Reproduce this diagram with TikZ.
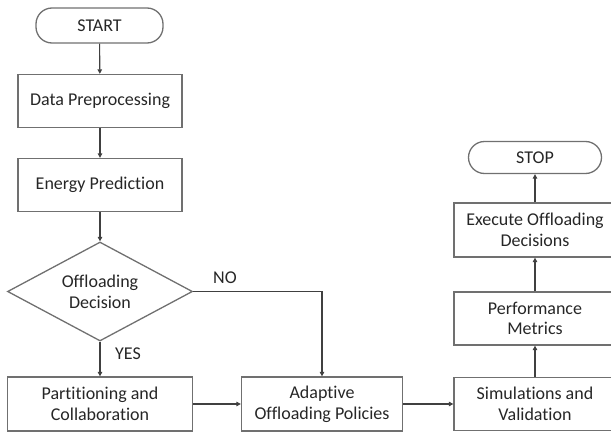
\documentclass[tikz,border=0pt]{standalone}
\usepackage{fontspec}
\setmainfont{Carlito}[Ligatures={NoCommon}]
\usetikzlibrary{shapes.geometric,arrows.meta}
\definecolor{txt}{HTML}{262626}
\definecolor{edge}{HTML}{707070}
\definecolor{arr}{HTML}{404040}
\begin{document}
\begin{tikzpicture}[x=1pt,y=-1pt,
  every node/.style={font=\fontsize{18}{20.7}\selectfont, text=txt},
  box/.style={draw=edge, line width=1.3pt, rectangle, align=center, inner sep=0pt},
  term/.style={draw=edge, line width=1.3pt, rectangle, rounded corners=16pt, align=center, inner sep=0pt},
  dia/.style={draw=edge, line width=1.3pt, diamond, aspect=1.87, align=center, inner sep=0pt, minimum width=185pt, minimum height=99pt},
  flow/.style={draw=arr, line width=1.1pt, -{Triangle[length=4.5pt,width=4.5pt]}},
  lbl/.style={font=\fontsize{18}{20.7}\selectfont}
]
\useasboundingbox (0,0) rectangle (611,434);
\clip (0,0) rectangle (611,434);
\node[term, minimum width=127pt, minimum height=35pt] (start) at (99.5,25.5) {START};
\node[box, minimum width=164pt, minimum height=53pt] (dp) at (100,101) {Data Preprocessing};
\node[box, minimum width=164pt, minimum height=53pt] (ep) at (100,185) {Energy Prediction};
\node[dia] (dec) at (100,291.5) {Offloading\\Decision};
\node[box, minimum width=185pt, minimum height=54pt] (part) at (100,404) {Partitioning and\\Collaboration};
\node[box, minimum width=161pt, minimum height=54pt] (adap) at (322,404) {Adaptive\\Offloading Policies};
\node[box, minimum width=162pt, minimum height=53pt] (sim) at (535,404) {Simulations and\\Validation};
\node[box, minimum width=162pt, minimum height=53pt] (perf) at (535,318.5) {Performance\\Metrics};
\node[box, minimum width=162pt, minimum height=54pt] (exe) at (535,230) {Execute Offloading\\Decisions};
\node[term, minimum width=133pt, minimum height=32pt] (stop) at (535,157.5) {STOP};
\coordinate (bend) at (adap.north |- dec.east);
\draw[flow] (start) -- (dp);
\draw[flow] (dp) -- (ep);
\draw[flow] (ep) -- (dec);
\draw[flow] (dec) -- (part);
\draw[flow] (dec.east) -- (bend) -- (adap.north);
\draw[flow] (part) -- (adap);
\draw[flow] (adap) -- (sim);
\draw[flow] (sim) -- (perf);
\draw[flow] (perf) -- (exe);
\draw[flow] (exe) -- (stop);
\node[lbl] (yes) at (128,354) {YES};
\node[lbl] (no) at (225,278) {NO};
\end{tikzpicture}
\end{document}
